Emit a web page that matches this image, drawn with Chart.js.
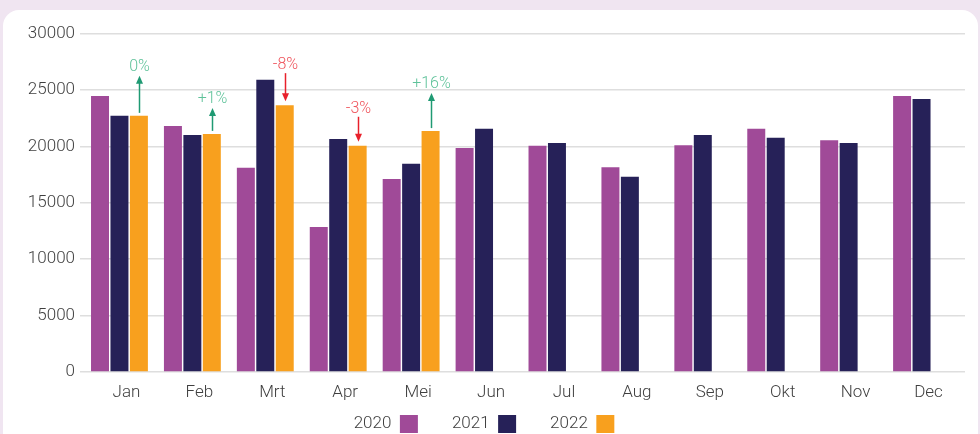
<!DOCTYPE html>
<html>
<head>
<meta charset="utf-8">
<script src="https://cdn.jsdelivr.net/npm/chart.js@4"></script>
<style>
  html, body { margin: 0; padding: 0; overflow: hidden; background: #f0e5f1; }
  #card { position: absolute; left: 3px; top: 10px; width: 975px; height: 470px; background: #fff; border-radius: 16px; }
  #wrap { position: absolute; left: 0; top: 0; width: 980px; height: 443px; }
</style>
</head>
<body>
<div id="card"></div>
<div id="wrap"><canvas id="omzet"></canvas></div>
<script>
const months = ['Jan', 'Feb', 'Mrt', 'Apr', 'Mei', 'Jun', 'Jul', 'Aug', 'Sep', 'Okt', 'Nov', 'Dec'];
const years = ['2020', '2021', '2022'];
const values2020 = [24450, 21800, 18100, 12850, 17100, 19850, 20050, 18150, 20100, 21550, 20550, 24450];
const values2021 = [22700, 21000, 25900, 20650, 18450, 21550, 20300, 17300, 21000, 20750, 20300, 24200];
const values2022 = [22700, 21100, 23650, 20050, 21350, null, null, null, null, null, null, null];
// verschil 2022 t.o.v. 2021
const changeLabels = ['0%', '+1%', '-8%', '-3%', '+16%'];
const yTicks = [0, 5000, 10000, 15000, 20000, 25000, 30000];

const colors = ['#a04a98', '#262158', '#f8a01e'];
const arrowLengths = [37, 23, 28, 25, 35];

const font = { family: 'Roboto', size: 17, weight: 300 };
const gridColor = '#dedede';

// pijltjes met percentages boven de 2022 balken
const changeArrows = {
    id: 'changeArrows',
    afterDatasetsDraw(chart) {
        const ctx = chart.ctx;
        const bars = chart.getDatasetMeta(2).data;
        ctx.save();
        ctx.font = '300 16px Roboto';
        ctx.textAlign = 'center';
        ctx.textBaseline = 'middle';
        changeLabels.forEach((label, i) => {
            const bar = bars[i];
            const x = Math.round(bar.x) + 0.5;
            const top = bar.y;
            const len = arrowLengths[i];
            const down = label.startsWith('-');
            const line = down ? '#e8202b' : '#1f9a73';
            const text = down ? '#ef545c' : '#5fc29a';
            let y1, y2, tip, dir, textY;
            if (down) {
                tip = top - 4;
                y1 = tip - len;
                y2 = tip - 6;
                dir = 1;
                textY = y1 - 8;
            } else {
                y1 = top - 3;
                tip = y1 - len;
                y2 = tip + 6;
                dir = -1;
                textY = tip - 9;
            }
            ctx.strokeStyle = line;
            ctx.fillStyle = line;
            ctx.lineWidth = 1.5;
            ctx.beginPath();
            ctx.moveTo(x, y1);
            ctx.lineTo(x, y2);
            ctx.stroke();
            ctx.beginPath();
            ctx.moveTo(x, tip);
            ctx.lineTo(x - 3.5, tip - dir * 8);
            ctx.lineTo(x + 3.5, tip - dir * 8);
            ctx.closePath();
            ctx.fill();
            ctx.fillStyle = text;
            ctx.fillText(label, x, textY);
        });
        ctx.restore();
    }
};

const ctx = document.getElementById('omzet').getContext('2d');

new Chart(ctx, {
    type: 'bar',
    data: {
        labels: months,
        datasets: [
            { label: years[0], data: values2020, backgroundColor: colors[0] },
            { label: years[1], data: values2021, backgroundColor: colors[1] },
            { label: years[2], data: values2022, backgroundColor: colors[2] }
        ]
    },
    options: {
        responsive: true,
        maintainAspectRatio: false,
        animation: false,
        categoryPercentage: 0.8,
        barPercentage: 0.925,
        layout: {
            padding: { left: 3, right: 15, top: 33.5, bottom: 0 }
        },
        plugins: {
            tooltip: { enabled: false },
            legend: {
                position: 'bottom',
                rtl: true,
                reverse: true,
                labels: {
                    boxWidth: 18,
                    boxHeight: 18,
                    padding: 34,
                    color: '#3f3f3f',
                    font: font
                }
            }
        },
        scales: {
            x: {
                grid: { display: false, drawTicks: false },
                border: { display: false },
                ticks: {
                    color: '#3f3f3f',
                    font: font,
                    padding: 11,
                    labelOffset: 7
                },
                // smalle as zodat de legenda direct eronder past; labels niet afknippen
                afterFit: (scale) => {
                    scale.height = 9;
                    scale._computeLabelArea = () => undefined;
                }
            },
            y: {
                min: 0,
                max: 30000,
                afterBuildTicks: (scale) => { scale.ticks = yTicks.map(v => ({ value: v })); },
                grid: { color: gridColor, lineWidth: 1.5, tickLength: 3 },
                border: { display: false },
                ticks: {
                    color: '#3f3f3f',
                    font: font,
                    padding: 5,
                    callback: (v) => String(v)
                },
                afterFit: (scale) => { scale.width = 80; }
            },
            y2: {
                position: 'right',
                min: 0,
                max: 30000,
                afterBuildTicks: (scale) => { scale.ticks = yTicks.map(v => ({ value: v })); },
                grid: { color: gridColor, lineWidth: 1.5, tickLength: 7, drawOnChartArea: false },
                border: { display: false },
                ticks: { display: false }
            }
        }
    },
    plugins: [changeArrows]
});
</script>
</body>
</html>
